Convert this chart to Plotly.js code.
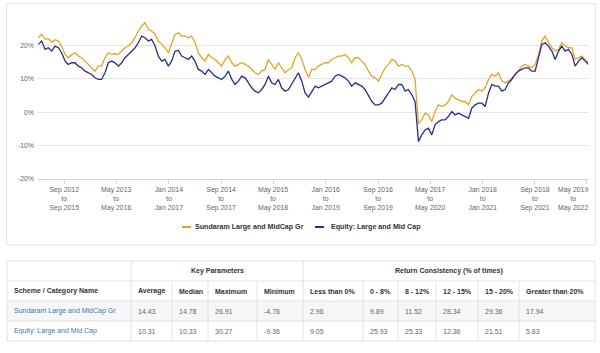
<!DOCTYPE html>
<html><head><meta charset="utf-8">
<script src="https://cdn.plot.ly/plotly-3.0.1.min.js"></script>
<style>html,body{margin:0;padding:0;background:#fff;} #chart{width:600px;height:353px;}</style>
</head><body><div id="chart"></div>
<script>
// ---------- data ----------
const seriesNames = ['Sundaram Large and MidCap Gr', 'Equity: Large and Mid Cap'];
const firstSampleDate = '2012-05-04';   // start date of the first 3-year window read
const sampleStepDays = 15.52;           // spacing of the read samples
const fundReturns = [
  22.3, 23.3, 21.8, 22, 21, 21.7, 21.3, 19.8, 17.3, 16.3, 17.3, 17.8, 16.8, 16.3, 15.3, 14.3, 13.3, 12.3, 13.8, 13.8,
  16.3, 17.8, 17.3, 17.5, 17.3, 18.3, 19.3, 19.8, 20.8, 22.3, 24.3, 25.8, 26.8, 24.8, 24.3, 23.3, 21.3, 20.3, 19.3, 17.8, 20.3,
  23.3, 23.8, 22.8, 22.8, 22.3, 22.8, 20.8, 17.8, 16.3, 15.3, 17.3, 16.3, 15.8, 14.8, 13.8, 15.8, 16.8, 14.8, 13.8, 14.3,
  14.8, 14.3, 13.8, 12.8, 11.8, 11.3, 12.3, 12.8, 15.8, 14.3, 12.8, 14.8, 13.3, 11.8, 12.8, 13.3, 16.3, 17.8, 15.8, 12.8, 10.5, 12.8,
  12.8, 13.8, 14.3, 14.8, 14.8, 15.8, 16.3, 16.8, 16.8, 17.3, 16.3, 14.8, 16.3, 16.3, 15.3, 14.3, 12.3, 10.8, 10.3, 9.3,
  11.3, 13.3, 14.3, 15.8, 15.3, 13.8, 14.3, 13.8, 13.8, 12.3, 9.8, -3.5, -2.3, -0.3, -0.8, -2.8, 0.2, 2.2, 1.7, 2.2, 3.2, 5.2,
  4.2, 3.7, 3.2, 3.2, 2.2, 4.7, 5.7, 6.8, 6.3, 7.3, 9.8, 11.3, 10.8, 11.8, 9.3, 8.8, 9.3, 10.3, 11.3, 12.3,
  13.8, 14.3, 13.8, 13.3, 14.3, 17.3, 21.3, 22.8, 20.8, 19.3, 18.3, 18.8, 20.8, 19.8, 19.3, 19.3, 15.8, 16.3, 16.8, 15.8, 14.8
];
const categoryReturns = [
  20.3, 21.3, 18.8, 19.3, 18.3, 19.8, 19.3, 17.8, 15.3, 14.3, 14.8, 14.8, 13.8, 13.3, 12.3, 11.8, 11.3, 10.3, 9.8, 9.8,
  11.8, 14.8, 15.3, 14.8, 13.8, 14.8, 16.3, 17.3, 18.3, 19.3, 20.8, 22.8, 22.3, 21.3, 21.8, 19.8, 16.8, 15.3, 15.8, 13.8, 15.3,
  18.3, 18.5, 16.8, 16.3, 15.8, 16.8, 15.3, 12.8, 12.3, 11.3, 12.8, 11.8, 10.8, 10.3, 9.8, 10.8, 12.3, 9.8, 8.3, 9.3,
  10.8, 10.3, 8.8, 7.3, 6.3, 5.8, 6.8, 8.3, 10.8, 8.8, 8.3, 9.8, 7.3, 6.3, 6.8, 8.3, 10.3, 11.8, 9.3, 5.8, 4.5, 6.3,
  7.8, 7.3, 7.8, 8.3, 8.8, 9.3, 10.8, 11.3, 10.8, 10.3, 9.3, 7.8, 8.8, 8.3, 7.8, 6.8, 5.2, 3.2, 2.2, 2.2,
  2.7, 4.2, 5.7, 7.3, 6.8, 8.3, 8.3, 6.3, 6.8, 5.2, 3.2, -8.8, -6.8, -5.3, -4.8, -6.8, -3.8, -2.8, -2.3, -2.3, -1.3, 0.2,
  -0.8, -0.3, -0.8, -1.3, -1.8, 1.2, 2.2, 2.7, 2.7, 1.7, 5.7, 8.3, 7.8, 7.8, 6.3, 6.8, 8.8, 9.8, 11.3, 12.3,
  12.8, 13.3, 13.3, 12.3, 12.3, 16.3, 20.3, 20.8, 19.8, 18.3, 15.8, 18.3, 19.8, 18.3, 18.8, 17.3, 13.8, 15.3, 16.3, 15.3, 14.3
];
const tickDates = ['2012-09-01','2013-05-01','2014-01-01','2014-09-01','2015-05-01','2016-01-01',
                   '2016-09-01','2017-05-01','2018-01-01','2018-09-01','2019-05-01'];
const tickLabels = ['Sep 2012<br>to<br>Sep 2015','May 2013<br>to<br>May 2016','Jan 2014<br>to<br>Jan 2017',
                    'Sep 2014<br>to<br>Sep 2017','May 2015<br>to<br>May 2018','Jan 2016<br>to<br>Jan 2019',
                    'Sep 2016<br>to<br>Sep 2019','May 2017<br>to<br>May 2020','Jan 2018<br>to<br>Jan 2021',
                    'Sep 2018<br>to<br>Sep 2021','May 2019<br>to<br>May 2022'];
const yTickValues = [-20, -10, 0, 10, 20, 30];
const yTickLabels = ['-20%', '-10%', '0%', '10%', '20%', ''];
const groupHeaders = ['Key Parameters', 'Return Consistency (% of times)'];
const columnHeaders = ['Scheme / Category Name','Average','Median','Maximum','Minimum','Less than 0%',
                       '0 - 8%','8 - 12%','12 - 15%','15 - 20%','Greater than 20%'];
const fundStats = ['14.43','14.78','26.91','-4.76','2.96','9.89','11.52','28.34','29.36','17.94'];
const categoryStats = ['10.31','10.33','30.27','-9.36','9.05','25.93','25.33','12.36','21.51','5.83'];

// ---------- build ----------
const [fy0, fm0, fd0] = firstSampleDate.split('-').map(Number);
const t0 = Date.UTC(fy0, fm0 - 1, fd0);
const sampleDates = fundReturns.map((_, i) =>
  new Date(t0 + i * sampleStepDays * 86400000).toISOString().slice(0, 10));

const colors = ['#e2a526', '#2b2b8e'];
const PL = 38, PR = 588, PT = 12, PB = 179;
const fx = px => (px - PL) / (PR - PL);
const fy = py => (PB - py) / (PB - PT);

const traces = [fundReturns, categoryReturns].map((vals, k) => ({
  type: 'scatter', mode: 'lines', x: sampleDates, y: vals, name: seriesNames[k],
  line: {color: colors[k], width: 1.3}, hoverinfo: 'skip', showlegend: false
}));

const shapes = [];
const annotations = [];
const line = (x0, y0, x1, y1, color, w) => shapes.push({type: 'line', xref: 'paper', yref: 'paper',
  x0: fx(x0), x1: fx(x1), y0: fy(y0), y1: fy(y1), line: {color: color, width: w || 1}, layer: 'below'});

// chart panel border
shapes.push({type: 'rect', xref: 'paper', yref: 'paper', x0: fx(6.5), x1: fx(595.5), y0: fy(3.5), y1: fy(245),
  line: {color: '#e4e4e4', width: 1}, fillcolor: 'rgba(0,0,0,0)', layer: 'below'});

// last x tick label: shifted left to stay inside the chart, as in the original
const axisFont = {family: 'Liberation Sans, Arial', size: 6.9, color: '#666'};
const shownTickText = tickLabels.map((t, i) => i === tickLabels.length - 1 ? '' : t);
annotations.push({xref: 'x', yref: 'paper', x: tickDates[tickDates.length - 1], xanchor: 'right', xshift: 2,
  y: fy(185), yanchor: 'top', align: 'center', text: tickLabels[tickLabels.length - 1], showarrow: false,
  font: axisFont, borderpad: 0});

// manual legend
const legendItems = [{x: 182, tx: 193}, {x: 315, tx: 329}];
legendItems.forEach((it, k) => {
  shapes.push({type: 'line', xref: 'paper', yref: 'paper', x0: fx(it.x), x1: fx(it.x + 9),
    y0: fy(227), y1: fy(227), line: {color: colors[k], width: 2}});
  annotations.push({xref: 'paper', yref: 'paper', x: fx(it.tx), y: fy(227), xanchor: 'left', yanchor: 'middle',
    text: seriesNames[k], showarrow: false,
    font: {family: 'Liberation Sans, Arial', size: 7.1, color: '#333', weight: 'bold'}});
});

// table
const colEdges = [7, 131, 172, 208, 257, 303, 363, 398, 436, 478, 519, 595];
const rowEdges = [261, 281, 301, 321, 341];
const borderColor = '#e4e2dc';
shapes.push({type: 'rect', xref: 'paper', yref: 'paper', x0: fx(7), x1: fx(595), y0: fy(301), y1: fy(321),
  line: {width: 0}, fillcolor: '#f6f6f6', layer: 'below'});
rowEdges.forEach(r => line(7, r, 595, r, borderColor));
colEdges.forEach((c, i) => {
  const full = (i === 0 || i === 1 || i === 5 || i === colEdges.length - 1);
  line(c, full ? 261 : 281, c, 341, borderColor);
});
const tFont = (bold, color) => ({family: 'Liberation Sans, Arial', size: 7, color: color, weight: bold ? 'bold' : 'normal'});
const cellText = (x, yc, text, font, anchor) => annotations.push({xref: 'paper', yref: 'paper',
  x: fx(x), y: fy(yc), xanchor: anchor || 'left', yanchor: 'middle', text: text, showarrow: false, font: font});
cellText((colEdges[1] + colEdges[5]) / 2, 271, groupHeaders[0], tFont(true, '#333'), 'center');
cellText((colEdges[5] + colEdges[11]) / 2, 271, groupHeaders[1], tFont(true, '#333'), 'center');
columnHeaders.forEach((h, i) => cellText(colEdges[i] + 5, 291, h, tFont(true, '#333')));
cellText(colEdges[0] + 5, 311, seriesNames[0], tFont(false, '#3a78b6'));
cellText(colEdges[0] + 5, 331, seriesNames[1], tFont(false, '#3a78b6'));
fundStats.forEach((v, i) => cellText(colEdges[i + 1] + 5, 311, v, tFont(false, '#666')));
categoryStats.forEach((v, i) => cellText(colEdges[i + 1] + 5, 331, v, tFont(false, '#666')));

const layout = {
  width: 600, height: 353,
  margin: {l: PL, r: 600 - PR, t: PT, b: 353 - PB, pad: 0},
  paper_bgcolor: '#fff', plot_bgcolor: '#fff',
  showlegend: false,
  xaxis: {type: 'date', range: ['2012-05-02', '2019-05-06'], tickmode: 'array', tickvals: tickDates, ticktext: shownTickText,
    tickangle: 0, ticks: 'outside', ticklen: 4, tickcolor: '#ccd6eb', showline: true, linecolor: '#ccd6eb',
    showgrid: false, zeroline: false, fixedrange: true,
    tickfont: axisFont},
  yaxis: {range: [-20, 30], tickmode: 'array', tickvals: yTickValues, ticktext: yTickLabels,
    gridcolor: '#e6e6e6', gridwidth: 1, zeroline: false, showline: false, ticks: '', fixedrange: true,
    ticklabelstandoff: 3,
    tickfont: axisFont},
  shapes: shapes, annotations: annotations
};
Plotly.newPlot('chart', traces, layout, {displayModeBar: false, staticPlot: true});
</script>
</body></html>
